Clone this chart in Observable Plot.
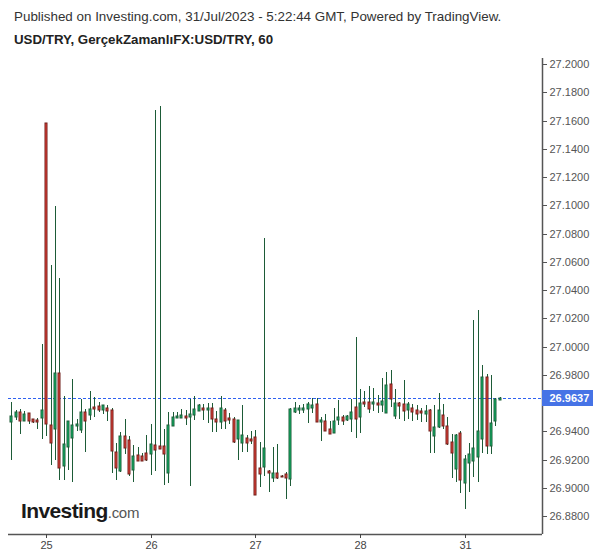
<!DOCTYPE html>
<html>
<head>
<meta charset="utf-8">
<script src="https://cdn.jsdelivr.net/npm/d3@7"></script>
<script src="https://cdn.jsdelivr.net/npm/@observablehq/plot@0.6"></script>
<style>
  html, body { margin: 0; padding: 0; background: #fff; }
  #wrap { position: relative; width: 600px; height: 558px; overflow: hidden; font-family: "Liberation Sans", Arial, sans-serif; }
  .t1 { position: absolute; left: 14px; top: 10px; font-size: 13.4px; line-height: 13px; color: #333; white-space: nowrap; }
  .t2 { position: absolute; left: 14px; top: 33px; font-size: 13.3px; line-height: 13px; font-weight: bold; color: #222; white-space: nowrap; }
  #chart { position: absolute; left: 0; top: 48px; }
  .logo { position: absolute; left: 21px; top: 500px; line-height: 21px; white-space: nowrap; }
  .logo .a { font-size: 21px; font-weight: bold; color: #1a1a1a; letter-spacing: -0.6px; }
  .logo .b { font-size: 15px; color: #555; letter-spacing: -0.3px; }
</style>
</head>
<body>
<div id="wrap">
  <div class="t1">Published on Investing.com, 31/Jul/2023 - 5:22:44 GMT, Powered by TradingView.</div>
  <div class="t2">USD/TRY, GerçekZamanlıFX:USD/TRY, 60</div>
  <div id="chart"></div>
  <div class="logo"><span class="a">Investing</span><span class="b">.com</span></div>
</div>
<script>
// Hourly candles, index 0 = 24 Jul 16:00 (chart time); weekend gap removed by the index.
const opens = [
  26.9471,26.9511,26.9537,26.9483,26.9530,26.9486,26.9481,26.9500,27.1580,26.9443,
  26.9422,26.9811,26.9160,26.9295,26.9358,26.9443,26.9415,26.9537,26.9521,26.9573,
  26.9580,26.9561,26.9566,26.9552,26.9252,26.9129,26.9365,26.9337,26.9132,26.9231,
  26.9224,26.9245,26.9245,26.9302,26.9295,26.9295,26.9115,26.9443,26.9500,26.9500,
  26.9507,26.9507,26.9521,26.9552,26.9566,26.9556,26.9566,26.9488,26.9471,26.9552,
  26.9495,26.9486,26.9351,26.9323,26.9351,26.9346,26.9358,26.9139,26.9158,26.9122,
  26.9080,26.9103,26.9087,26.9096,26.9073,26.9545,26.9556,26.9561,26.9563,26.9573,
  26.9594,26.9471,26.9471,26.9415,26.9394,26.9490,26.9502,26.9490,26.9497,26.9571,
  26.9511,26.9608,26.9608,26.9603,26.9601,26.9596,26.9540,26.9736,26.9519,26.9601,
  26.9594,26.9561,26.9566,26.9552,26.9542,26.9533,26.9552,26.9377,26.9441,26.9514,
  26.9436,26.9323,26.9144,26.9387,26.9040,26.9181,26.9200,26.9224,26.9351,26.9783,
  26.9302,26.9478,26.9633
];
const highs = [
  26.9608,26.9552,26.9559,26.9545,26.9530,26.9488,26.9495,27.0019,27.1585,27.0578,
  27.0995,27.0486,26.9651,26.9474,26.9771,26.9486,26.9632,26.9559,26.9686,26.9644,
  26.9608,26.9587,26.9587,26.9566,26.9318,26.9394,26.9486,26.9365,26.9304,26.9287,
  26.9245,26.9375,26.9453,27.1675,27.1703,26.9417,26.9537,26.9537,26.9537,26.9559,
  26.9552,26.9632,26.9651,26.9594,26.9594,26.9601,26.9601,26.9545,26.9651,26.9566,
  26.9530,26.9504,26.9481,26.9587,26.9372,26.9401,26.9408,26.9323,27.0767,26.9129,
  26.9287,26.9309,26.9094,26.9111,26.9566,26.9608,26.9587,26.9594,26.9608,26.9634,
  26.9634,26.9504,26.9521,26.9471,26.9566,26.9622,26.9516,26.9516,26.9632,27.0068,
  26.9698,26.9686,26.9721,26.9707,26.9655,26.9780,26.9821,26.9835,26.9700,26.9608,
  26.9762,26.9608,26.9594,26.9585,26.9566,26.9585,26.9561,26.9587,26.9672,26.9592,
  26.9504,26.9379,26.9382,26.9403,26.9231,26.9316,27.0186,27.0259,26.9868,26.9804,
  26.9797,26.9637,26.9642
];
const lows = [
  26.9200,26.9481,26.9384,26.9480,26.9455,26.9462,26.9420,26.9349,26.9370,26.9165,
  26.9200,26.9059,26.9059,26.9129,26.9044,26.9401,26.9391,26.9257,26.9481,26.9504,
  26.9537,26.9521,26.9476,26.9108,26.9059,26.9115,26.9243,26.9087,26.9044,26.9193,
  26.9191,26.9193,26.9094,26.9122,26.9273,26.9023,26.9037,26.9440,26.9497,26.9497,
  26.9448,26.9016,26.9483,26.9545,26.9483,26.9462,26.9394,26.9394,26.9415,26.9415,
  26.9450,26.9316,26.9200,26.9257,26.9252,26.9309,26.8953,26.9004,26.9087,26.8974,
  26.9044,26.9066,26.9080,26.8924,26.9016,26.9530,26.9521,26.9530,26.9462,26.9530,
  26.9469,26.9330,26.9405,26.9379,26.9387,26.9448,26.9448,26.9474,26.9398,26.9356,
  26.9391,26.9575,26.9533,26.9547,26.9533,26.9540,26.9537,26.9575,26.9490,26.9490,
  26.9476,26.9490,26.9476,26.9483,26.9469,26.9469,26.9250,26.9250,26.9427,26.9420,
  26.9306,26.9073,26.9044,26.8967,26.8853,26.8974,26.9080,26.9044,26.9250,26.9243,
  26.9243,26.9441,26.9630
];
const closes = [
  26.9507,26.9537,26.9483,26.9523,26.9483,26.9476,26.9476,26.9552,26.9457,26.9323,
  26.9811,26.9146,26.9309,26.9471,26.9443,26.9453,26.9537,26.9479,26.9559,26.9568,
  26.9561,26.9585,26.9554,26.9266,26.9146,26.9365,26.9287,26.9103,26.9224,26.9200,
  26.9195,26.9207,26.9309,26.9273,26.9280,26.9245,26.9443,26.9500,26.9509,26.9514,
  26.9500,26.9521,26.9559,26.9587,26.9556,26.9566,26.9493,26.9471,26.9566,26.9479,
  26.9490,26.9330,26.9479,26.9372,26.9323,26.9337,26.8955,26.9103,26.9280,26.9115,
  26.9103,26.9080,26.9082,26.9080,26.9559,26.9566,26.9566,26.9566,26.9594,26.9587,
  26.9471,26.9483,26.9408,26.9387,26.9471,26.9502,26.9481,26.9509,26.9537,26.9497,
  26.9601,26.9601,26.9568,26.9608,26.9596,26.9615,26.9726,26.9639,26.9601,26.9585,
  26.9554,26.9592,26.9547,26.9533,26.9535,26.9542,26.9412,26.9429,26.9549,26.9443,
  26.9320,26.9252,26.9375,26.9061,26.9203,26.9240,26.9280,26.9401,26.9783,26.9302,
  26.9457,26.9632,26.9637
];
const dayTickIndex = [8, 32, 56, 80, 104];
const dayTickLabel = ["25", "26", "27", "28", "31"];
// 26.96 sits under the last-price badge, so it is left out as in the reference
const priceTicks = [26.88, 26.90, 26.92, 26.94, 26.98, 27.00, 27.02, 27.04, 27.06, 27.08, 27.10, 27.12, 27.14, 27.16, 27.18, 27.20];
const lastPrice = 26.9637;

const xView = [-0.757, 121.72];
const yView = [26.8674, 27.2043];

const candles = opens.map((o, i) => ({
  i, open: o, high: highs[i], low: lows[i], close: closes[i], up: closes[i] >= o
}));

const WICK = "#1d5b37";
const chart = Plot.plot({
  width: 600, height: 510,
  marginLeft: 8, marginRight: 58, marginTop: 10, marginBottom: 24,
  style: { fontFamily: '"Liberation Sans", Arial, sans-serif', fontSize: "11px", background: "#fff", overflow: "visible" },
  x: { type: "linear", domain: xView, round: true, axis: null },
  y: { type: "linear", domain: yView, round: true, axis: null },
  marks: [
    Plot.ruleY([lastPrice], { stroke: "#2f62f0", strokeWidth: 1, strokeDasharray: "3,2" }),
    Plot.ruleX(candles, { x: "i", y1: "low", y2: "high", stroke: WICK, strokeWidth: 1 }),
    Plot.rect(candles, {
      x1: "i", x2: "i",
      y1: d => Math.max(d.open, d.close), y2: d => Math.min(d.open, d.close),
      insetLeft: -1, insetRight: -1, insetBottom: -1,
      fill: d => d.up ? "#0cbf6c" : "#f0473c",
      stroke: d => d.up ? WICK : "#6e1c18", strokeWidth: 1
    }),
    Plot.ruleX([xView[1]], { stroke: "#555", strokeWidth: 1.5 }),
    Plot.ruleY([yView[0]], { stroke: "#555", strokeWidth: 1.5 }),
    Plot.axisY(priceTicks, { anchor: "right", label: null, tickFormat: d => d.toFixed(4), tickSize: 4, tickPadding: 3, color: "#555", fontSize: 11 }),
    Plot.axisX(dayTickIndex, { anchor: "bottom", label: null, tickFormat: d => dayTickLabel[dayTickIndex.indexOf(d)], tickSize: 4, tickPadding: 3, color: "#444", fontSize: 11 }),
    Plot.rect([lastPrice], { x1: xView[1], x2: xView[1], y1: d => d, y2: d => d, insetRight: -51, insetTop: -8, insetBottom: -8, fill: "#4673e6" }),
    Plot.text([lastPrice], { x: xView[1], y: d => d, text: d => d.toFixed(4), textAnchor: "start", dx: 7, fill: "#fff", fontWeight: "bold", fontSize: 11 })
  ]
});
document.getElementById("chart").appendChild(chart);
</script>
</body>
</html>
